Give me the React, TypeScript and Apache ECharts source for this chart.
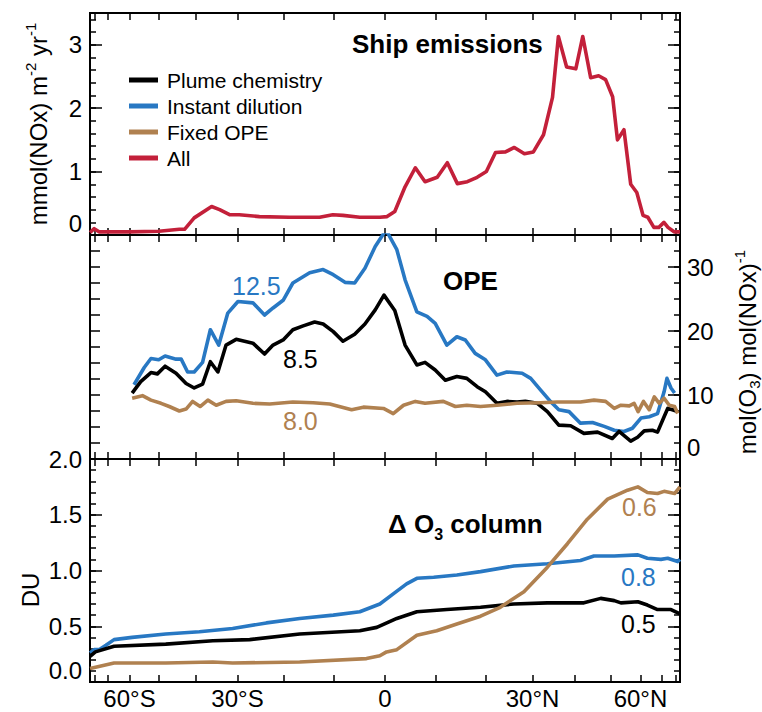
import React, { useEffect, useRef } from "react";
import * as echarts from "echarts";

const FONT = '"Liberation Sans", Arial, Helvetica, sans-serif';
const C_PLUME = "#000000";
const C_INSTANT = "#2878c3";
const C_FIXED = "#b08150";
const C_ALL = "#c3203a";

const seriesNames = ["Plume chemistry", "Instant dilution", "Fixed OPE", "All"];
const latTicks = [-80, -70, -60, -50, -40, -30, -20, -10, 0, 10, 20, 30, 40, 50, 60, 70, 80];
const latLabelValues = [-60, -30, 0, 30, 60];
const latLabelText = ["60°S", "30°S", "0", "30°N", "60°N"];

// Ship emissions, mmol(NOx) m-2 yr-1 : [latitude, value]
const emisAll: [number, number][] = [
  [-89, 0.04], [-80.3, 0.1], [-75.8, 0.05], [-60, 0.05], [-50, 0.06], [-44.2, 0.09], [-42.8, 0.09],
  [-40.3, 0.27], [-36.0, 0.45], [-34.1, 0.4], [-31.8, 0.32], [-29.6, 0.32], [-25.2, 0.29], [-18.9, 0.28],
  [-12.8, 0.28], [-10.2, 0.32], [-8.2, 0.31], [-4.9, 0.28], [-1.0, 0.28], [0.4, 0.29], [1.9, 0.37],
  [3.9, 0.76], [5.9, 1.06], [7.8, 0.84], [10.2, 0.91], [12.2, 1.14], [14.2, 0.81], [16.2, 0.84],
  [18.2, 0.91], [20.1, 1.0], [22.0, 1.3], [24.1, 1.31], [26.0, 1.38], [28.2, 1.28], [30.2, 1.31],
  [32.5, 1.58], [34.6, 2.17], [36.0, 3.13], [38.0, 2.65], [40.3, 2.62], [42.1, 3.13], [44.2, 2.48],
  [46.4, 2.51], [48.4, 2.45], [50.5, 2.18], [52.0, 1.5], [54.1, 1.66], [56.4, 0.8], [58.6, 0.67],
  [61.0, 0.31], [63.0, 0.28], [65.7, 0.12], [68.2, 0.12], [71.0, 0.2], [73.6, 0.12], [78.5, 0.05], [89, 0.05],
];

// OPE, mol(O3) mol(NOx)-1
const opePlume: [number, number][] = [
  [-59.0, 10.3], [-55.9, 12.1], [-52.5, 13.5], [-50.5, 13.3], [-48.2, 14.5], [-45.1, 13.4], [-42.4, 11.8],
  [-40.3, 11.1], [-38.2, 11.7], [-36.3, 15.2], [-34.5, 13.6], [-32.6, 17.8], [-30.3, 18.7], [-26.6, 18.1],
  [-24.1, 16.4], [-22.3, 17.8], [-20.2, 18.6], [-18.2, 20.2], [-16.1, 20.8], [-13.8, 21.4], [-12.1, 21.1],
  [-10.1, 19.9], [-8.2, 18.4], [-5.9, 19.5], [-3.9, 21.1], [-1.9, 23.3], [-0.2, 25.6], [1.9, 23.2],
  [3.9, 17.8], [6.2, 14.7], [7.8, 15.1], [9.8, 13.9], [11.8, 12.3], [14.1, 12.9], [16.1, 12.6],
  [18.2, 11.3], [19.9, 10.5], [22.3, 8.7], [24.4, 9.0], [26.6, 8.9], [28.4, 9.0], [31.1, 8.7],
  [33.4, 7.4], [36.1, 5.3], [39.0, 5.2], [42.4, 4.0], [46.1, 4.2], [50.4, 3.2], [52.5, 4.3],
  [56.4, 2.8], [58.9, 3.4], [61.5, 4.4], [65.0, 4.5], [67.5, 4.2], [71.1, 6.6], [73.4, 7.9],
  [77.0, 7.7], [82.8, 7.4],
];
const opeInstant: [number, number][] = [
  [-58.3, 11.6], [-54.7, 14.3], [-52.5, 15.7], [-50.1, 15.5], [-48.2, 16.1], [-45.1, 15.6], [-43.7, 15.6],
  [-42.0, 13.6], [-40.3, 13.6], [-38.2, 15.1], [-36.3, 20.2], [-34.3, 17.8], [-32.2, 22.8], [-29.9, 24.6],
  [-26.6, 24.4], [-24.1, 22.5], [-22.3, 23.6], [-20.2, 24.8], [-18.2, 27.5], [-14.8, 29.1], [-12.1, 29.6],
  [-10.1, 28.8], [-7.8, 27.6], [-5.9, 27.5], [-3.9, 29.8], [-1.9, 33.2], [0.2, 35.8], [2.3, 32.7],
  [3.9, 28.0], [6.2, 23.0], [8.2, 22.3], [9.8, 21.2], [12.1, 17.8], [14.1, 19.1], [15.8, 18.6],
  [17.8, 16.5], [19.9, 15.5], [22.3, 13.1], [24.4, 13.6], [27.7, 13.4], [29.6, 12.6], [31.8, 10.8],
  [34.1, 9.0], [36.1, 7.7], [38.6, 7.4], [41.5, 5.6], [44.7, 5.7], [48.0, 5.1], [51.0, 4.5],
  [54.1, 4.3], [57.0, 4.8], [60.2, 6.4], [63.6, 6.6], [67.5, 7.1], [71.1, 10.5], [72.9, 12.6],
  [75.8, 11.1], [79.0, 10.3],
];
const opeFixed: [number, number][] = [
  [-59.0, 9.5], [-55.3, 9.9], [-52.5, 9.2], [-49.4, 8.7], [-47.0, 8.2], [-44.2, 7.5], [-42.4, 7.8],
  [-40.7, 9.0], [-38.8, 8.2], [-36.9, 9.2], [-34.9, 8.4], [-32.6, 9.0], [-30.3, 9.1], [-26.6, 8.7],
  [-23.0, 8.6], [-18.2, 8.9], [-14.1, 8.8], [-10.8, 8.6], [-6.5, 7.7], [-4.2, 8.1], [-0.3, 7.9],
  [1.6, 7.1], [3.6, 8.4], [5.9, 9.0], [7.8, 8.7], [11.4, 9.0], [13.8, 8.2], [16.1, 8.4],
  [18.9, 8.2], [22.3, 8.4], [26.6, 8.7], [31.8, 8.8], [35.7, 8.9], [41.5, 8.9], [45.1, 9.2],
  [48.4, 9.0], [51.0, 7.9], [53.1, 8.4], [55.9, 8.3], [57.6, 8.7], [59.1, 7.4], [61.2, 9.0],
  [63.6, 7.7], [65.9, 9.7], [68.4, 8.7], [71.1, 9.5], [74.5, 8.4], [79.0, 8.2], [82.8, 7.1],
];

// Delta O3 column, DU
const colPlume: [number, number][] = [
  [-89, 0.23], [-79, 0.27], [-66.7, 0.32], [-48, 0.34], [-35.7, 0.37], [-27.3, 0.38], [-16.8, 0.43],
  [-4.9, 0.46], [-1.6, 0.49], [2.3, 0.57], [6.2, 0.63], [12.1, 0.65], [18.9, 0.67], [25.9, 0.7],
  [33.4, 0.71], [42.4, 0.71], [47.0, 0.75], [51.0, 0.73], [53.1, 0.71], [59.0, 0.72], [62.8, 0.69],
  [67.5, 0.65], [75.8, 0.65], [89, 0.61],
];
const colInstant: [number, number][] = [
  [-89, 0.26], [-80.3, 0.29], [-75.8, 0.29], [-71.1, 0.33], [-66.7, 0.38], [-59, 0.4], [-48, 0.43],
  [-39, 0.45], [-31.1, 0.48], [-23.7, 0.53], [-16.8, 0.57], [-10.1, 0.6], [-4.9, 0.63], [-1.0, 0.7],
  [1.6, 0.79], [4.2, 0.88], [6.2, 0.93], [9.5, 0.94], [14.1, 0.96], [18.9, 0.99], [25.9, 1.04],
  [33.4, 1.06], [41.5, 1.09], [45.1, 1.13], [51.0, 1.13], [59.0, 1.14], [62.8, 1.11], [69.3, 1.1],
  [73.4, 1.11], [82.8, 1.08], [89, 1.1],
];
const colFixed: [number, number][] = [
  [-89, 0.12], [-66.7, 0.17], [-48, 0.17], [-35.7, 0.18], [-31.1, 0.17], [-16.8, 0.18], [-3.6, 0.21],
  [-1.0, 0.235], [0.3, 0.27], [2.3, 0.29], [6.2, 0.42], [10.1, 0.46], [14.1, 0.52], [18.9, 0.59],
  [23.0, 0.67], [28.1, 0.81], [33.4, 1.03], [38.2, 1.24], [43.3, 1.46], [49.0, 1.64], [55.3, 1.72],
  [59.0, 1.75], [62.8, 1.7], [67.5, 1.69], [71.1, 1.71], [79.0, 1.69], [89, 1.75],
];

const toSin = (lat: number) => Math.sin((lat * Math.PI) / 180);
const labelFor = (v: number) => {
  let best = 0;
  latLabelValues.forEach((lat, i) => {
    if (Math.abs(toSin(lat) - v) < Math.abs(toSin(latLabelValues[best]) - v)) best = i;
  });
  return latLabelText[best];
};

const TICK = { color: "#000", width: 1.5 };

function xAx(gridIndex: number, position: string, showLabel: boolean) {
  return {
    type: "value",
    gridIndex,
    position,
    min: -1,
    max: 1,
    axisLine: { show: false, onZero: false },
    splitLine: { show: false },
    axisTick: {
      show: true,
      inside: true,
      length: 7,
      customValues: latTicks.map(toSin),
      lineStyle: TICK,
    },
    axisLabel: showLabel
      ? {
          show: true,
          customValues: latLabelValues.map(toSin),
          formatter: (v: number) => labelFor(v),
          fontSize: 24,
          fontFamily: FONT,
          color: "#000",
          margin: 4,
        }
      : { show: false },
  };
}

function yAx(
  gridIndex: number,
  position: string,
  max: number,
  interval: number,
  tickLen: number,
  label?: any
) {
  return {
    type: "value",
    gridIndex,
    position,
    min: 0,
    max,
    interval,
    axisLine: { show: false, onZero: false },
    splitLine: { show: false },
    axisTick: { show: true, inside: true, length: tickLen, lineStyle: TICK },
    axisLabel: label
      ? { show: true, fontSize: 24, fontFamily: FONT, color: "#000", ...label }
      : { show: false },
  };
}

function line(name: string, color: string, data: [number, number][], xi: number, yi: number, z: number) {
  return {
    type: "line",
    name,
    xAxisIndex: xi,
    yAxisIndex: yi,
    data: data.map(([lat, v]) => [toSin(lat), v]),
    showSymbol: false,
    symbol: "none",
    color,
    lineStyle: { color, width: 3.6, join: "round" },
    clip: true,
    z,
    silent: true,
  };
}

export default function App() {
  const ref = useRef<HTMLDivElement>(null);
  useEffect(() => {
    if (!ref.current) return;
    const chart = echarts.init(ref.current, undefined, { renderer: "svg" });
    const gridBase = { left: 90, width: 590, show: true, borderColor: "#000", borderWidth: 2, backgroundColor: "transparent" };
    const txt = (x: number, y: number, text: string, size: number, color: string, bold = false, extra: any = {}) => ({
      type: "text",
      x,
      y,
      silent: true,
      style: {
        text,
        fontSize: size,
        fontFamily: FONT,
        fontWeight: bold ? "bold" : "normal",
        fill: color,
        align: "left",
        verticalAlign: "middle",
        ...extra,
      },
    });
    chart.setOption({
      animation: false,
      grid: [
        { ...gridBase, top: 13, height: 222 },
        { ...gridBase, top: 235, height: 224 },
        { ...gridBase, top: 459, height: 223 },
      ],
      xAxis: [
        xAx(0, "bottom", false),
        xAx(0, "top", false),
        xAx(1, "bottom", false),
        xAx(1, "top", false),
        xAx(2, "bottom", true),
        xAx(2, "top", false),
      ],
      yAxis: [
        yAx(0, "left", 3.5, 1, 12, { margin: 8, showMaxLabel: false, verticalAlignMinLabel: "bottom" }),
        yAx(0, "left", 3.5, 0.2, 6),
        yAx(0, "right", 3.5, 1, 12),
        yAx(0, "right", 3.5, 0.2, 6),
        yAx(1, "right", 35, 10, 12, { margin: 7, showMaxLabel: false, verticalAlignMinLabel: "bottom" }),
        yAx(1, "right", 35, 2.5, 6),
        yAx(1, "left", 35, 2.5, 10),
        yAx(2, "left", 2, 0.5, 12, {
          margin: 8,
          formatter: (v: number) => v.toFixed(1),
          verticalAlignMinLabel: "bottom",
        }),
        yAx(2, "left", 2, 0.1, 6),
        yAx(2, "right", 2, 0.5, 12),
        yAx(2, "right", 2, 0.1, 6),
      ],
      legend: {
        show: true,
        orient: "vertical",
        left: 124,
        top: 64,
        icon: "rect",
        itemWidth: 29,
        itemHeight: 5,
        itemGap: 4,
        selectedMode: false,
        data: seriesNames,
        textStyle: { fontSize: 21, fontFamily: FONT, color: "#000", lineHeight: 22, padding: [0, 0, 0, 4] },
      },
      series: [
        line(seriesNames[3], C_ALL, emisAll, 0, 0, 3),
        line(seriesNames[1], C_INSTANT, opeInstant, 2, 4, 3),
        line(seriesNames[0], C_PLUME, opePlume, 2, 4, 4),
        line(seriesNames[2], C_FIXED, opeFixed, 2, 4, 5),
        line(seriesNames[1], C_INSTANT, colInstant, 4, 7, 3),
        line(seriesNames[0], C_PLUME, colPlume, 4, 7, 4),
        line(seriesNames[2], C_FIXED, colFixed, 4, 7, 5),
      ],
      graphic: [
        txt(352, 44, "Ship emissions", 26, "#000", true),
        txt(443, 281, "OPE", 26, "#000", true),
        txt(388, 524, "{b|Δ O}{s|3}{b| column}", 26, "#000", true, {
          rich: {
            b: { fontSize: 26, fontWeight: "bold", fontFamily: FONT, fill: "#000", lineHeight: 36, verticalAlign: "middle" },
            s: { fontSize: 16, fontWeight: "bold", fontFamily: FONT, fill: "#000", lineHeight: 36, verticalAlign: "bottom" },
          },
        }),
        txt(232, 286, "12.5", 25, C_INSTANT),
        txt(283, 359, "8.5", 25, C_PLUME),
        txt(283, 421, "8.0", 25, C_FIXED),
        txt(622, 507, "0.6", 25, C_FIXED),
        txt(621, 577, "0.8", 25, C_INSTANT),
        txt(621, 624, "0.5", 25, C_PLUME),
        {
          type: "text",
          x: 38,
          y: 124,
          rotation: Math.PI / 2,
          silent: true,
          style: {
            text: "{n|mmol(NOx) m}{p|-2}{n| yr}{p|-1}",
            align: "center",
            verticalAlign: "middle",
            rich: {
              n: { fontSize: 24, fontFamily: FONT, fill: "#000", lineHeight: 30, verticalAlign: "middle" },
              p: { fontSize: 15, fontFamily: FONT, fill: "#000", lineHeight: 30, verticalAlign: "top" },
            },
          },
        },
        {
          type: "text",
          x: 747,
          y: 352,
          rotation: Math.PI / 2,
          silent: true,
          style: {
            text: "{n|mol(O}{b|3}{n|) mol(NOx)}{p|-1}",
            align: "center",
            verticalAlign: "middle",
            rich: {
              n: { fontSize: 24, fontFamily: FONT, fill: "#000", lineHeight: 30, verticalAlign: "middle" },
              p: { fontSize: 15, fontFamily: FONT, fill: "#000", lineHeight: 30, verticalAlign: "top" },
              b: { fontSize: 15, fontFamily: FONT, fill: "#000", lineHeight: 30, verticalAlign: "bottom" },
            },
          },
        },
        {
          type: "text",
          x: 30,
          y: 590,
          rotation: Math.PI / 2,
          silent: true,
          style: { text: "DU", fontSize: 24, fontFamily: FONT, fill: "#000", align: "center", verticalAlign: "middle" },
        },
      ],
    });
    return () => chart.dispose();
  }, []);
  return (
    <div
      ref={ref}
      style={{ position: "fixed", left: 0, top: 0, width: 762, height: 712, background: "#fff" }}
    />
  );
}
